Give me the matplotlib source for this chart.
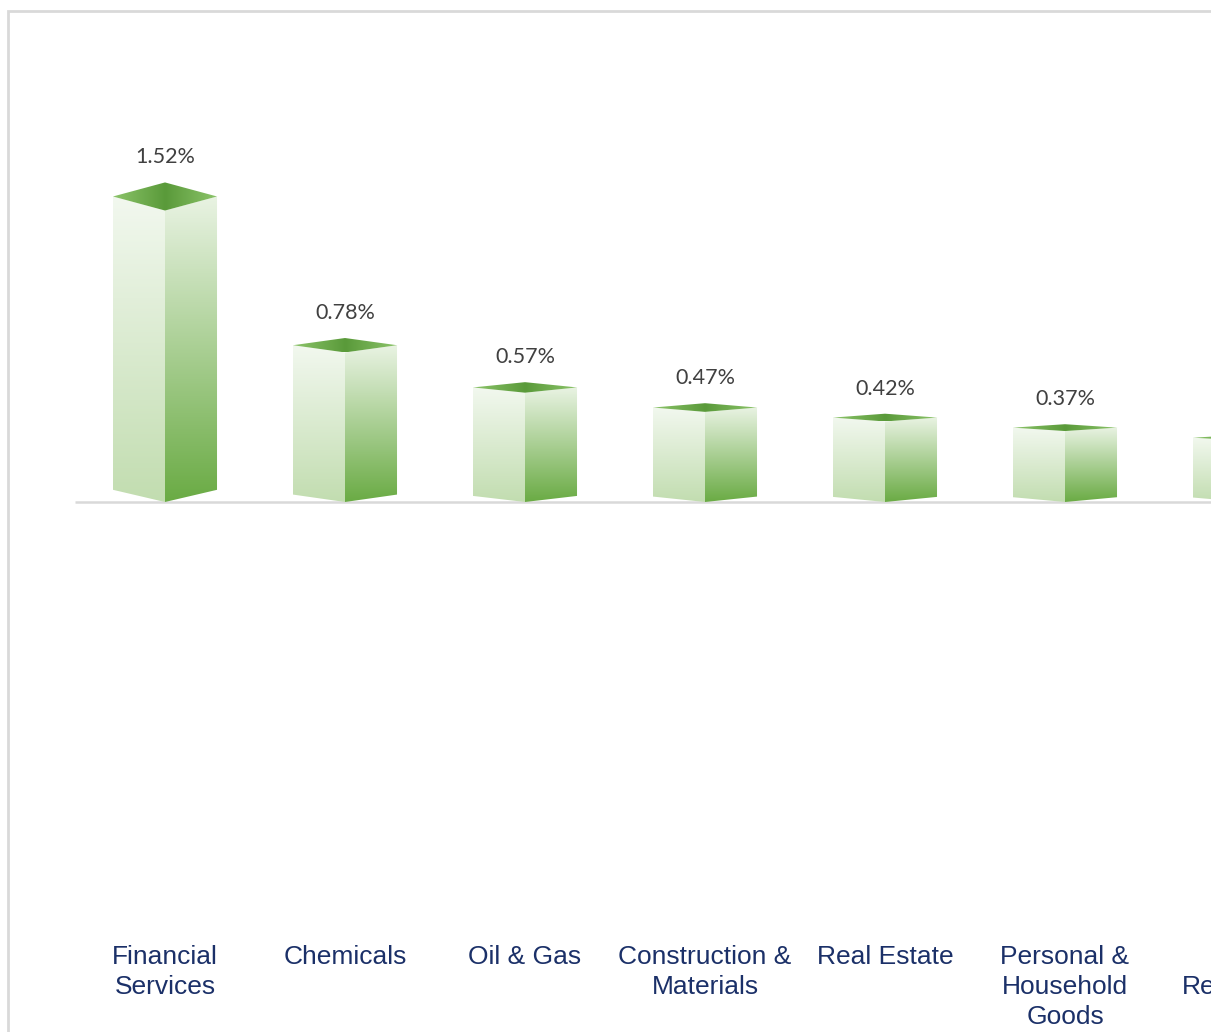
import numpy as np
import matplotlib
matplotlib.use('Agg')
import matplotlib.pyplot as plt
from matplotlib.patches import Polygon, Rectangle
from matplotlib.colors import LinearSegmentedColormap
from matplotlib.transforms import blended_transform_factory

categories = ["Financial\nServices", "Chemicals", "Oil & Gas",
              "Construction &\nMaterials", "Real Estate",
              "Personal &\nHousehold\nGoods", "Basic\nResources"]
values = [1.52, 0.78, 0.57, 0.47, 0.42, 0.37, 0.32]
value_labels = [f"{v:.2f}%" for v in values]

W, H = 1211, 1032
fig = plt.figure(figsize=(W / 100, H / 100), dpi=100)
fig.patch.set_facecolor('white')

# chart border (extends past right/bottom edges of the image)
fig.add_artist(Rectangle((8 / W, -0.2), 1.5, 1.2 - 11 / H, transform=fig.transFigure,
                         fill=False, edgecolor='#d9d9d9', linewidth=2))

ax = fig.add_axes([75 / W, 1 - 944.2 / H, 1260 / W, 904.5 / H])
ax.axis('off')

YLIM = (-2.2, 2.3)
XLIM = (-0.5, len(values) - 0.5)

HALF_W = 0.289


def grad_face(poly, c_top, c_bot, z=2):
    patch = Polygon(poly, closed=True, facecolor='none', edgecolor='none')
    ax.add_patch(patch)
    xs = [p[0] for p in poly]
    ys = [p[1] for p in poly]
    cmap = LinearSegmentedColormap.from_list('g', [c_bot, c_top])
    arr = np.linspace(0, 1, 256).reshape(-1, 1)
    im = ax.imshow(arr, cmap=cmap, extent=[min(xs), max(xs), min(ys), max(ys)],
                   origin='lower', aspect='auto', interpolation='bilinear', zorder=z)
    im.set_clip_path(patch)


def top_face(poly, c_edge, c_mid, z=3):
    patch = Polygon(poly, closed=True, facecolor='none', edgecolor='none')
    ax.add_patch(patch)
    xs = [p[0] for p in poly]
    ys = [p[1] for p in poly]
    cmap = LinearSegmentedColormap.from_list('t', [c_edge, c_mid])
    t = np.linspace(-1, 1, 256)
    arr = (1 - np.abs(t)).reshape(1, -1)
    im = ax.imshow(arr, cmap=cmap, extent=[min(xs), max(xs), min(ys), max(ys)],
                   origin='lower', aspect='auto', interpolation='bilinear', zorder=z)
    im.set_clip_path(patch)


# baseline
ax.plot(XLIM, [0, 0], color='#d9d9d9', linewidth=1.8, zorder=1, solid_capstyle='butt')

for i, v in enumerate(values):
    d = 0.046 * v               # perspective depth of top
    b = 0.012 + 0.032 * v       # perspective of bottom corners
    L, C, R = i - HALF_W, i, i + HALF_W
    left = [(L, b), (C, 0), (C, v - d), (L, v)]
    right = [(C, 0), (R, b), (R, v), (C, v - d)]
    top = [(L, v), (C, v + d), (R, v), (C, v - d)]
    grad_face(left, '#f2f8ef', '#c2ddb0')
    grad_face(right, '#e9f3e3', '#6aab44')
    top_face(top, '#8cc46a', '#5a9a3a')
    ax.text(C, v + d + 25 / 201, value_labels[i], ha='center', va='center',
            fontsize=15.5, family='Lato', color='#404040', zorder=5)

trans = blended_transform_factory(ax.transData, fig.transFigure)
for i, cat in enumerate(categories):
    ax.text(i, 1 - 945.5 / H, cat, transform=trans, ha='center', va='top',
            fontsize=19, family='Liberation Sans', color='#1B3068',
            linespacing=1.3, clip_on=False)

ax.set_xlim(*XLIM)
ax.set_ylim(*YLIM)

fig.savefig('out.png', dpi=100, facecolor='white')
